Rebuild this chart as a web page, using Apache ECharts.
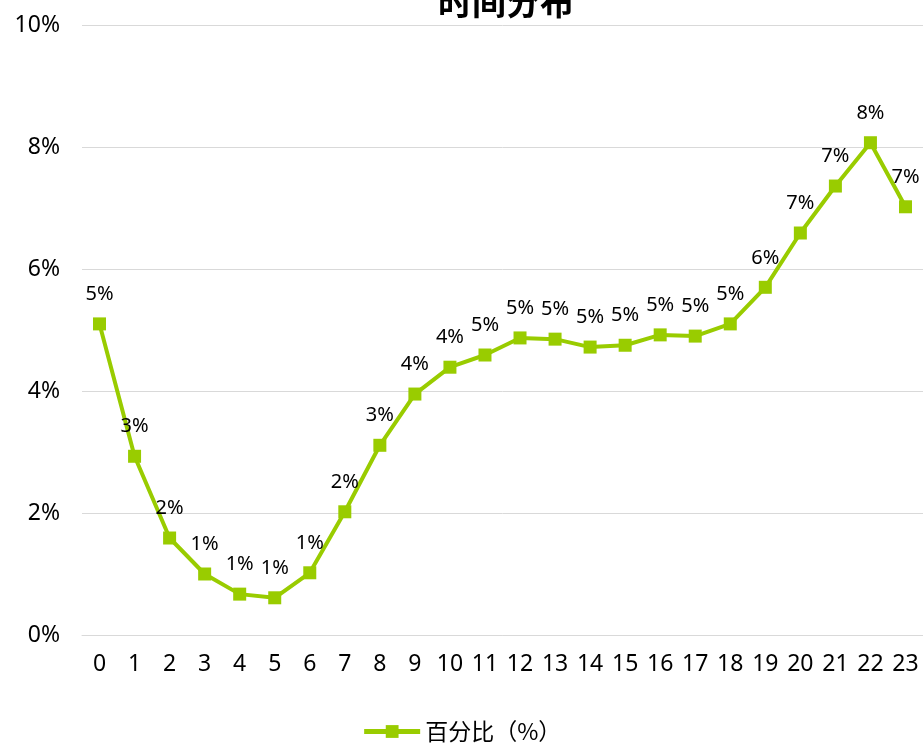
<!DOCTYPE html>
<html>
<head>
<meta charset="utf-8">
<script src="https://cdn.jsdelivr.net/npm/echarts@6/dist/echarts.min.js"></script>
<style>
  html, body { margin: 0; padding: 0; background: #fff; }
  #chart { width: 923px; height: 744px; }
</style>
</head>
<body>
<div id="chart"></div>
<script>
// 小时
const hours = ['0','1','2','3','4','5','6','7','8','9','10','11','12','13','14','15','16','17','18','19','20','21','22','23']
// 百分比（%）
const percents = [5.10, 2.93, 1.59, 1.00, 0.67, 0.61, 1.02, 2.02, 3.11, 3.95, 4.39, 4.59, 4.87, 4.85, 4.72, 4.75, 4.92, 4.90, 5.10, 5.70, 6.59, 7.36, 8.07, 7.02]
const yTicks = [0, 2, 4, 6, 8, 10]

const green = '#99cc00'
const font = '"Liberation Sans Narrow", "Noto Sans", sans-serif'

const chart = echarts.init(document.getElementById('chart'))
chart.setOption({
    animation: false,
    title: {
        text: '时间分布',
        left: 501,
        textAlign: 'center',
        top: -20,
        textStyle: { fontSize: 34, fontWeight: 'bold', color: '#000', fontFamily: '"Noto Sans CJK SC", sans-serif' }
    },
    grid: { left: 82, right: -3, top: 25, bottom: 109 },
    xAxis: {
        type: 'category',
        data: hours,
        axisLine: { show: true, lineStyle: { color: '#d9d9d9' } },
        axisTick: { show: false },
        axisLabel: { color: '#000', fontSize: 23, fontFamily: font, margin: 18 }
    },
    yAxis: {
        type: 'value',
        min: yTicks[0],
        max: yTicks[yTicks.length - 1],
        interval: 2,
        axisLine: { show: false },
        axisTick: { show: false },
        splitLine: { lineStyle: { color: '#d9d9d9' } },
        axisLabel: { color: '#000', fontSize: 23, fontFamily: '"Noto Sans", sans-serif', margin: 22, formatter: '{value}%' }
    },
    legend: {
        bottom: -4,
        left: 'center',
        itemWidth: 56,
        itemHeight: 16,
        itemGap: 4,
        lineStyle: { width: 5 },
        textStyle: { fontSize: 23, color: '#000', fontFamily: '"Noto Sans CJK SC", sans-serif' },
        data: ['百分比（%）']
    },
    series: [{
        name: '百分比（%）',
        type: 'line',
        data: percents,
        symbol: 'rect',
        symbolSize: 13,
        lineStyle: { color: green, width: 4 },
        itemStyle: { color: green },
        label: {
            show: true,
            position: 'top',
            distance: 13,
            color: '#000',
            fontSize: 20,
            fontFamily: '"Noto Sans", sans-serif',
            formatter: (p) => Math.round(p.value) + '%'
        }
    }]
})
</script>
</body>
</html>
